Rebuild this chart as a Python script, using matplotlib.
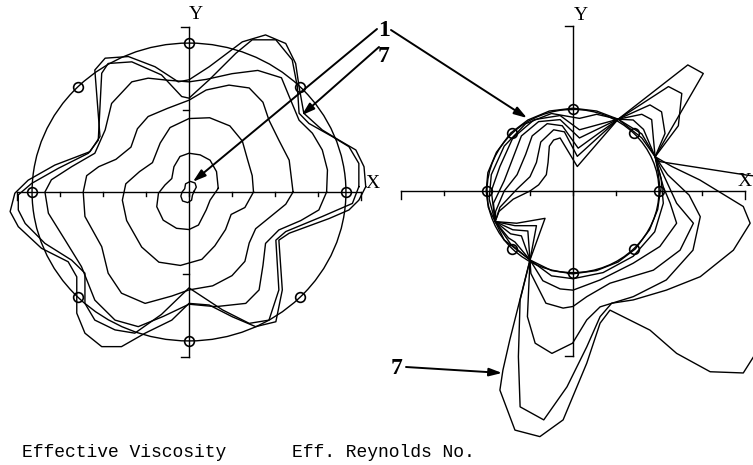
# -*- coding: utf-8 -*-
"""Contornos de viscosidad efectiva y Reynolds efectivo (curvas 1 a 7)"""
import numpy as np
import matplotlib.pyplot as plt
from matplotlib.patches import Circle

# ---------------- Viscosidad efectiva: curvas 1..7 (x, y) ----------------
visc_1 = [(0.12, 0.02), (0.17, 0.12), (0.14, 0.22), (0.03, 0.26), (-0.08, 0.2), (-0.1, 0.08),
          (-0.16, 0.0), (-0.19, -0.1), (-0.15, -0.22), (-0.03, -0.26), (0.06, -0.2), (0.08, -0.08)]
visc_2 = [(0.68, 0.09), (0.64, 0.5), (0.49, 0.78), (0.26, 0.91), (0.0, 0.95), (-0.21, 0.87),
          (-0.35, 0.62), (-0.4, 0.33), (-0.56, 0.17), (-0.71, -0.03), (-0.75, -0.36), (-0.6, -0.69),
          (-0.29, -0.89), (0.0, -0.92), (0.22, -0.81), (0.4, -0.44), (0.49, -0.2)]
visc_3 = [(1.5, 0.0), (1.47, 0.4), (1.36, 0.8), (1.24, 1.25), (0.95, 1.62), (0.48, 1.82), (0.0, 1.8),
          (-0.44, 1.58), (-0.67, 1.2), (-0.85, 0.72), (-1.15, 0.5), (-1.47, 0.2), (-1.55, -0.2),
          (-1.45, -0.7), (-1.1, -1.35), (-0.7, -1.72), (-0.2, -1.8), (0.3, -1.65), (0.6, -1.32),
          (0.85, -0.92), (0.98, -0.55), (1.3, -0.38)]
visc_4 = [(2.42, 0.0), (2.33, 0.78), (2.09, 1.27), (1.86, 1.76), (1.72, 2.2), (1.4, 2.55), (0.93, 2.62),
          (0.4, 2.5), (0.0, 2.25), (-0.5, 2.05), (-0.95, 1.85), (-1.2, 1.55), (-1.35, 1.1), (-1.7, 0.8),
          (-2.1, 0.62), (-2.38, 0.4), (-2.46, 0.0), (-2.42, -0.6), (-2.03, -1.34), (-1.88, -1.99),
          (-1.57, -2.48), (-1.02, -2.73), (-0.4, -2.55), (0.0, -2.4), (0.55, -2.3), (1.0, -2.05),
          (1.3, -1.7), (1.4, -1.25), (1.55, -0.9), (1.9, -0.6), (2.25, -0.3)]
visc_5 = [(3.2, 0.0), (3.22, 0.54), (3.1, 1.03), (2.87, 1.44), (2.56, 1.76), (2.33, 2.34), (2.15, 2.8),
          (1.6, 2.98), (1.0, 2.9), (0.4, 2.76), (0.0, 2.7), (-0.5, 2.74), (-0.95, 2.79), (-1.33, 2.7),
          (-1.8, 2.17), (-1.95, 1.52), (-2.19, 0.95), (-2.73, 0.62), (-3.2, 0.3), (-3.35, 0.0),
          (-3.27, -0.52), (-2.88, -1.18), (-2.5, -1.83), (-2.19, -2.65), (-1.72, -3.14), (-1.18, -3.3),
          (-0.6, -3.05), (0.0, -2.75), (0.62, -2.81), (1.32, -2.73), (1.63, -2.4), (1.72, -1.8),
          (1.78, -1.26), (2.09, -0.93), (2.6, -0.7), (3.02, -0.44)]
visc_6 = [(3.95, 0.13), (3.95, 0.7), (3.72, 1.11), (3.33, 1.36), (2.79, 1.68), (2.56, 1.93), (2.52, 2.58),
          (2.4, 3.24), (2.02, 3.73), (1.47, 3.73), (1.09, 3.4), (0.47, 2.75), (0.0, 2.3), (-0.17, 2.34),
          (-0.64, 2.87), (-1.33, 3.19), (-1.88, 3.15), (-2.03, 2.91), (-2.11, 1.27), (-2.34, 0.95),
          (-3.04, 0.58), (-3.66, 0.21), (-3.97, -0.07), (-3.97, -0.44), (-3.81, -0.77), (-3.35, -1.26),
          (-2.73, -1.67), (-2.42, -1.99), (-2.42, -2.73), (-2.19, -3.14), (-1.72, -3.38), (-1.26, -3.46),
          (-0.64, -3.0), (0.0, -2.35), (0.78, -2.89), (1.4, -3.22), (1.86, -3.14), (2.09, -2.4),
          (2.02, -1.18), (2.25, -0.97), (3.1, -0.6), (3.8, -0.28)]
visc_7 = [(4.11, 0.13), (4.07, 0.62), (3.88, 1.03), (3.49, 1.27), (3.1, 1.52), (2.67, 1.93), (2.56, 2.58),
          (2.48, 3.15), (2.25, 3.64), (1.78, 3.85), (1.24, 3.68), (0.47, 3.07), (0.0, 2.75), (-0.25, 2.7),
          (-0.79, 3.07), (-1.41, 3.32), (-1.95, 3.28), (-2.19, 2.99), (-2.07, 1.36), (-2.3, 0.99),
          (-3.12, 0.66), (-3.74, 0.29), (-4.05, -0.03), (-4.16, -0.48), (-3.97, -0.85), (-3.43, -1.38),
          (-2.81, -1.71), (-2.61, -2.08), (-2.61, -2.97), (-2.42, -3.46), (-2.03, -3.79), (-1.57, -3.79),
          (-1.02, -3.46), (-0.4, -3.14), (0.0, -2.73), (0.47, -2.77), (1.01, -3.06), (1.55, -3.3),
          (2.02, -3.18), (2.17, -2.4), (2.09, -1.18), (2.33, -1.01), (3.26, -0.65), (3.72, -0.44),
          (3.95, -0.2)]
visc_curvas = [visc_1, visc_2, visc_3, visc_4, visc_5, visc_6, visc_7]
visc_radio = 3.65

# ---------------- Reynolds efectivo: curvas 1..7 (x, y) ----------------
P1 = (1.05, 1.76)
P2 = (1.91, 0.84)
P3 = (-1.81, -0.75)
P4 = (-1.0, -1.69)
re_1 = [(2.03, 0.0), (1.98, 0.45), P2, (1.6, 1.3), P1, (0.55, 1.96), (0.0, 2.03), (-0.55, 1.96),
        (-1.05, 1.74), (-1.45, 1.42), (-1.78, 0.95), (-1.98, 0.45), (-2.02, 0.0), (-1.97, -0.4), P3,
        (-1.45, -1.3), P4, (-0.5, -1.95), (0.0, -2.03), (0.55, -1.95), (1.05, -1.74), (1.45, -1.42),
        (1.78, -0.95), (1.97, -0.45)]
re_2 = [P1, (0.55, 1.88), (0.15, 1.78), (-0.5, 1.9), (-1.1, 1.65), (-1.6, 1.1), (-1.9, 0.4), (-1.95, -0.2),
        P3, (-1.6, -1.2), P4, (-0.5, -2.08), (0.0, -2.15), (0.7, -2.0), (1.4, -1.6), (1.9, -1.0),
        (2.1, -0.3), (2.05, 0.3), P2, (1.6, 1.4)]
re_3 = [P1, (0.15, 1.5), (-0.3, 1.85), (-0.9, 1.75), (-1.4, 1.3), (-1.7, 0.6), (-1.9, 0.0), P3,
        (-1.5, -1.15), (-1.35, -1.25), P4, (-0.7, -2.2), (-0.3, -2.4), (0.0, -2.43), (0.63, -2.18),
        (1.4, -1.77), (2.02, -1.36), (2.41, -0.79), (2.26, -0.3), (2.1, 0.1), P2, (1.64, 1.51), (1.4, 1.74)]
re_4 = [P1, (0.15, 1.3), (-0.3, 1.75), (-0.8, 1.7), (-1.2, 1.35), (-1.4, 0.8), (-1.6, 0.25), (-1.85, -0.3),
        P3, (-1.45, -1.05), (-1.2, -1.1), P4, (-0.98, -2.02), (-0.63, -2.75), (-0.23, -2.87), (0.0, -2.83),
        (0.32, -2.59), (0.86, -2.26), (1.87, -1.94), (2.49, -1.45), (2.8, -0.79), (2.41, -0.3), P2,
        (1.87, 1.28), (1.83, 1.75), (1.6, 1.88)]
re_5 = [P1, (0.12, 1.05), (-0.25, 1.6), (-0.6, 1.65), (-0.95, 1.35), (-1.1, 0.9), (-1.3, 0.4), (-1.6, 0.0),
        (-1.8, -0.5), P3, (-1.4, -0.95), (-1.05, -0.98), P4, (-1.06, -3.08), (-0.88, -3.73),
        (-0.49, -3.98), (-0.01, -3.73), (0.32, -3.16), (0.63, -2.84), (1.4, -2.59), (2.17, -2.18),
        (2.79, -1.45), (2.96, -0.63), (2.7, -0.1), (2.2, 0.4), P2, (2.14, 1.41), (2.06, 1.94), (1.79, 2.11)]
re_6 = [P1, (0.1, 0.85), (-0.2, 1.45), (-0.45, 1.5), (-0.75, 1.2), (-0.85, 0.7), (-1.0, 0.35), (-1.3, 0.05),
        (-1.7, -0.4), P3, (-1.35, -0.85), (-0.85, -0.85), P4, (-1.23, -2.67), (-1.27, -4.06), (-1.23, -5.29),
        (-0.68, -5.61), (-0.14, -4.8), (0.32, -3.82), (0.63, -3.08), (0.9, -2.75), (1.4, -2.67),
        (2.17, -2.43), (2.96, -2.1), (3.73, -1.45), (4.12, -0.79), (3.96, -0.38), (2.95, 0.27), (2.3, 0.6),
        P2, (2.45, 1.6), (2.53, 2.39), (2.22, 2.56)]
re_7 = [P1, (0.1, 0.6), (-0.3, 1.3), (-0.45, 1.25), (-0.55, 1.1), (-0.58, 0.7), (-0.62, 0.4), (-0.8, 0.15),
        (-1.0, 0.0), (-1.39, -0.2), (-1.72, -0.5), P3, (-1.31, -0.79), (-0.65, -0.67), P4, (-1.47, -3.65),
        (-1.63, -4.39), (-1.7, -4.88), (-1.35, -5.86), (-0.77, -6.02), (-0.23, -5.61), (0.32, -4.22),
        (0.63, -3.24), (0.86, -2.92), (1.79, -3.41), (2.41, -3.98), (3.19, -4.43), (3.96, -4.46),
        (4.2, -4.06), (4.8, -2.5), (4.8, 0.3), (4.04, 0.39), (2.02, 0.72), P2, (3.03, 2.88), (2.67, 3.09)]
re_curvas = [re_1, re_2, re_3, re_4, re_5, re_6, re_7]
re_radio = 2.0

# marcadores sobre el circulo de referencia (grados)
ang_marcas = [0, 45, 90, 135, 180, 225, 270, 315]

# figura 753x465 px
fig = plt.figure(figsize=(7.53, 4.65), dpi=100)
px = 1 / 43.0     # unidades por pixel en x
py = 1 / 40.8     # unidades por pixel en y

# ejes: izquierda centrada en (189, 192) px, derecha en (573, 191) px
ax1 = fig.add_axes([0, 0, 378 / 753, 1])
ax1.set_xlim(-189 * px, 189 * px)
ax1.set_ylim(-(465 - 192) * py, 192 * py)
ax2 = fig.add_axes([380 / 753, 0, 373 / 753, 1])
ax2.set_xlim(-193 * px, 180 * px)
ax2.set_ylim(-(465 - 191) * py, 191 * py)

lw = 1.0
for ax, curvas, radio in [(ax1, visc_curvas, visc_radio), (ax2, re_curvas, re_radio)]:
    ax.axis("off")
    # ejes X e Y con marcas
    ax.plot([-4, 4], [0, 0], color="black", lw=lw)
    for t in range(-3, 4):
        ax.plot([t, t], [0, -4 * py], color="black", lw=lw)
    for t in [-4, 4]:
        ax.plot([t, t], [0, -8 * py], color="black", lw=lw)
    ax.plot([0, 0], [-4.04, 4.04], color="black", lw=lw)
    for t in [-2, 2]:
        ax.plot([0, -6 * px], [t, t], color="black", lw=lw)
    for t in [-4.04, 4.04]:
        ax.plot([0, -8 * px], [t, t], color="black", lw=lw)

    # circulo de referencia y marcadores
    ax.add_patch(Circle((0, 0), radio, fill=False, color="black", lw=lw))
    a = np.radians(ang_marcas)
    ax.plot(radio * np.cos(a), radio * np.sin(a), "o", ms=7, mfc="none", mec="black", mew=1.2)

    # curvas cerradas
    for c in curvas:
        pts = np.array(c + [c[0]])
        ax.plot(pts[:, 0], pts[:, 1], color="black", lw=lw)

# etiquetas de ejes
fs_ej = dict(family="Liberation Serif", fontsize=14, ha="center", va="center")
ax1.text(4.26, 0.22, "X", **fs_ej)
ax1.text(0.16, 4.34, "Y", **fs_ej)
ax2.text(0.19, 4.31, "Y", **fs_ej)
fig.text(752 / 753, (465 - 181) / 465, "X", family="Liberation Serif", fontsize=14,
         ha="right", va="center")

# titulos
fs_t = dict(family="Liberation Mono", fontsize=13, ha="center", va="center")
fig.text(124.5 / 753, (465 - 452) / 465, "Effective Viscosity", **fs_t)
fig.text(383 / 753, (465 - 452) / 465, "Eff. Reynolds No.", **fs_t)

# numeros de curva y flechas
fs_n = dict(family="Liberation Serif", fontsize=17, fontweight="bold", va="center", ha="center")
fig.text(384 / 753, (465 - 31) / 465, "1", **fs_n)
fig.text(384 / 753, (465 - 56) / 465, "7", **fs_n)
fig.text(397 / 753, (465 - 368) / 465, "7", **fs_n)

flecha = dict(arrowstyle="-|>,head_length=0.7,head_width=0.22", color="black", lw=1.4,
              mutation_scale=11, shrinkA=0, shrinkB=0)
ax1.annotate("", xy=(0.09, 0.25), xytext=(377, 465 - 29), textcoords="figure pixels",
             arrowprops=flecha, annotation_clip=False)
ax1.annotate("", xy=(2.62, 1.88), xytext=(379, 465 - 47), textcoords="figure pixels",
             arrowprops=flecha, annotation_clip=False)
ax2.annotate("", xy=(-1.07, 1.79), xytext=(391, 465 - 30), textcoords="figure pixels",
             arrowprops=flecha, annotation_clip=False)
ax2.annotate("", xy=(-1.65, -4.46), xytext=(406, 465 - 367), textcoords="figure pixels",
             arrowprops=flecha, annotation_clip=False)

fig.savefig("out.png", dpi=100)
